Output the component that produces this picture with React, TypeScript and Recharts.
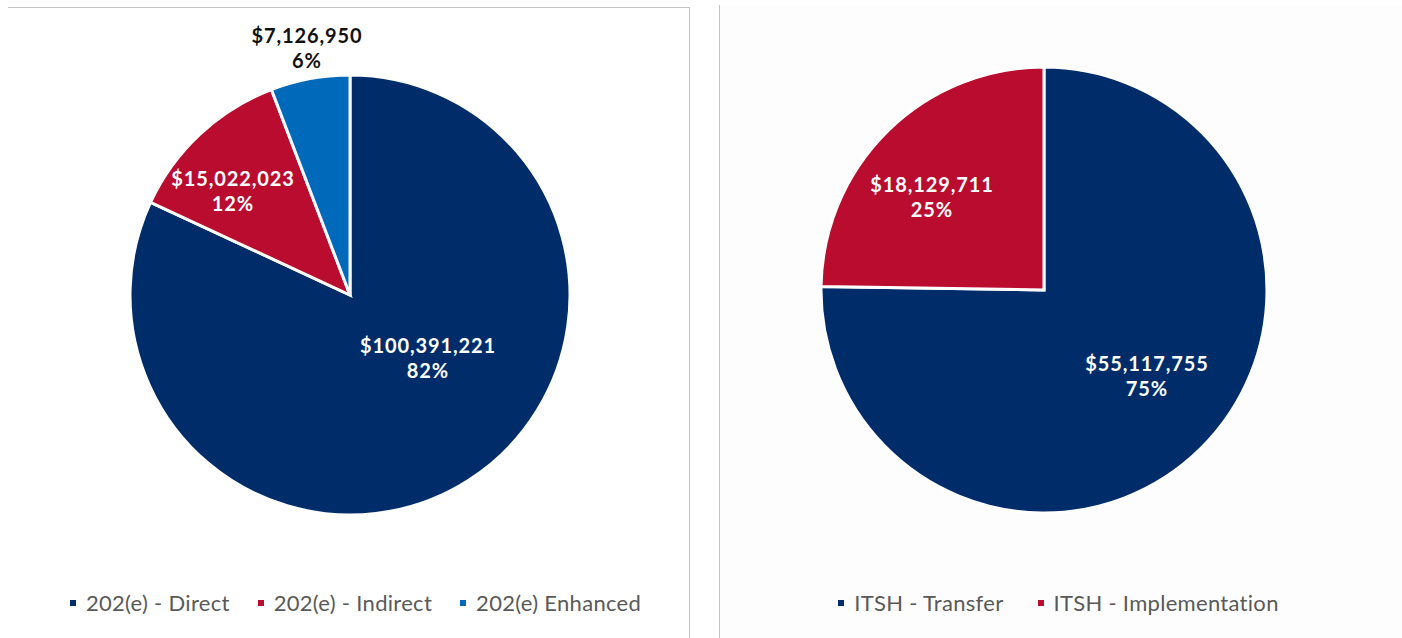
import React from "react";
import { PieChart, Pie, Cell, Legend } from "recharts";

const leftNames = ["202(e) - Direct", "202(e) - Indirect", "202(e) Enhanced"];
const leftValues = [100391221, 15022023, 7126950];
const rightNames = ["ITSH - Transfer", "ITSH - Implementation"];
const rightValues = [55117755, 18129711];

const leftColors = ["#002D6A", "#BA0C2F", "#0069B9"];
const rightColors = ["#002D6A", "#BA0C2F"];

// label anchor (centre x, first baseline) relative to the pie centre, Excel "best fit" style
const leftLabelPos = [
  { dx: 78, dy: 58, fill: "#fff" },
  { dx: -117, dy: -109, fill: "#fff" },
  { dx: -43, dy: -252, fill: "#111" },
];
const rightLabelPos = [
  { dx: 103, dy: 81, fill: "#fff" },
  { dx: -112, dy: -98, fill: "#fff" },
];

const money = (v: number) => "$" + v.toLocaleString("en-US");

const makeLabel = (pos: { dx: number; dy: number; fill: string }[]) => (p: any) => {
  const s = pos[p.index];
  const x = p.cx + s.dx;
  const y = p.cy + s.dy;
  return (
    <text
      x={x}
      y={y}
      textAnchor="middle"
      fill={s.fill}
      fontFamily="Lato, sans-serif"
      fontWeight={700}
      fontSize={20}
      letterSpacing={0.9}
    >
      <tspan x={x} y={y}>{money(p.value)}</tspan>
      <tspan x={x} y={y + 25}>{Math.round(p.percent * 100) + "%"}</tspan>
    </text>
  );
};

const legendContent = (names: string[], colors: string[], gap: number) => () => (
  <div
    style={{
      display: "flex",
      justifyContent: "center",
      fontFamily: "Lato, sans-serif",
      fontSize: 22,
      letterSpacing: 0.3,
      lineHeight: "26px",
      color: "#595959",
    }}
  >
    {names.map((n, i) => (
      <div key={n} style={{ display: "flex", alignItems: "center", marginRight: i < names.length - 1 ? gap : 0 }}>
        <span style={{ width: 6, height: 6, background: colors[i], display: "inline-block", marginRight: 10 }} />
        <span>{n}</span>
      </div>
    ))}
  </div>
);

const noMargin = { top: 0, right: 0, bottom: 0, left: 0 };

export default function App() {
  const left = leftNames.map((name, i) => ({ name, value: leftValues[i] }));
  const right = rightNames.map((name, i) => ({ name, value: rightValues[i] }));

  return (
    <div style={{ position: "absolute", left: 0, top: 0, width: 1402, height: 638, background: "#fff", overflow: "hidden" }}>
      <div style={{ position: "absolute", left: 8, top: 7, width: 681, height: 640, borderTop: "1px solid #c4c4c4", borderRight: "1px solid #c4c4c4" }} />
      <div style={{ position: "absolute", left: 719, top: 5, width: 683, height: 640, borderLeft: "1px solid #c4c4c4", background: "#fdfdfd" }} />

      <div style={{ position: "absolute", left: 0, top: 0 }}>
        <PieChart width={690} height={638} margin={noMargin}>
          <Pie
            data={left}
            dataKey="value"
            nameKey="name"
            cx={350}
            cy={295}
            outerRadius={220}
            startAngle={90}
            endAngle={-270}
            stroke="#fff"
            strokeWidth={3}
            labelLine={false}
            label={makeLabel(leftLabelPos)}
            isAnimationActive={false}
          >
            {left.map((d, i) => (
              <Cell key={d.name} fill={leftColors[i]} />
            ))}
          </Pie>
          <Legend content={legendContent(leftNames, leftColors, 28)} wrapperStyle={{ top: 590, left: 0, width: 711 }} />
        </PieChart>
      </div>

      <div style={{ position: "absolute", left: 700, top: 0 }}>
        <PieChart width={702} height={638} margin={noMargin}>
          <Pie
            data={right}
            dataKey="value"
            nameKey="name"
            cx={344}
            cy={290}
            outerRadius={223}
            startAngle={90}
            endAngle={-270}
            stroke="#fff"
            strokeWidth={3}
            labelLine={false}
            label={makeLabel(rightLabelPos)}
            isAnimationActive={false}
          >
            {right.map((d, i) => (
              <Cell key={d.name} fill={rightColors[i]} />
            ))}
          </Pie>
          <Legend content={legendContent(rightNames, rightColors, 34)} wrapperStyle={{ top: 590, left: 0, width: 717 }} />
        </PieChart>
      </div>
    </div>
  );
}
